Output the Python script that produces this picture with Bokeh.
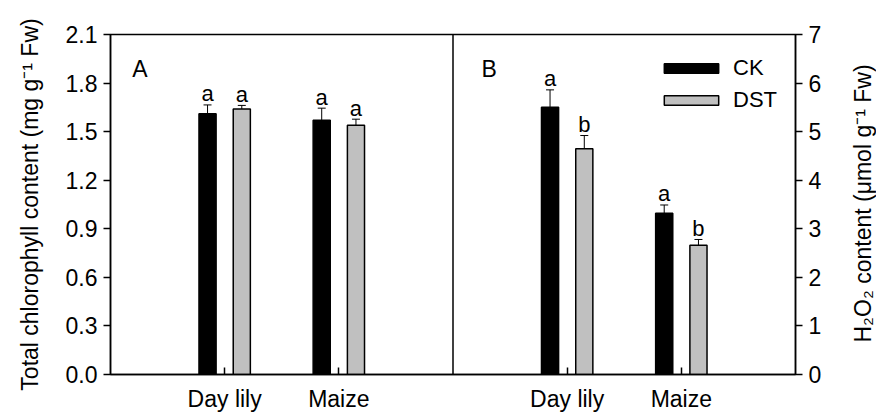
import math
from bokeh.plotting import figure
from bokeh.models import (Range1d, LinearAxis, FixedTicker, Whisker, ColumnDataSource,
                          Span, Legend, LegendItem, Label, TeeHead, PrintfTickFormatter)
from bokeh.core.properties import value
from bokeh.embed import file_html
from bokeh.resources import INLINE

# ---------------- data ----------------
categories = ["Day lily", "Maize"]
series = ["CK", "DST"]

chl_ck = [1.61, 1.57]
chl_ck_err = [0.055, 0.075]
chl_dst = [1.64, 1.54]
chl_dst_err = [0.022, 0.037]
chl_ck_letters = ["a", "a"]
chl_dst_letters = ["a", "a"]

h2o2_ck = [5.50, 3.32]
h2o2_ck_err = [0.36, 0.17]
h2o2_dst = [4.65, 2.66]
h2o2_dst_err = [0.27, 0.12]
h2o2_ck_letters = ["a", "a"]
h2o2_dst_letters = ["b", "b"]

chl_ticks = [0.0, 0.3, 0.6, 0.9, 1.2, 1.5, 1.8, 2.1]
h2o2_ticks = [0, 1, 2, 3, 4, 5, 6, 7]
panel_labels = ["A", "B"]

left_label = "Total chlorophyll content (mg g\u207b\u00b9 Fw)"
right_label = "H\u2082O\u2082 content (\u03bcmol g\u207b\u00b9 Fw)"

# ---------------- layout helpers ----------------
FONT = "Liberation Sans"
n = len(categories)
xa = [i + 1 for i in range(n)]            # panel A category positions
xb = [i + n + 2 for i in range(n)]        # panel B category positions
x_max = xb[-1] + 1
OFF = 0.15
BW = 0.15

p = figure(width=876, height=414, output_backend="svg", toolbar_location=None,
           x_range=Range1d(0, x_max), y_range=Range1d(0, chl_ticks[-1]),
           min_border_left=110, min_border_right=81, min_border_top=34, min_border_bottom=38)
p.extra_y_ranges = {"h2o2": Range1d(0, h2o2_ticks[-1])}

p.xgrid.visible = False
p.ygrid.visible = False
p.outline_line_color = "black"
p.outline_line_width = 1.5
p.background_fill_color = "white"
p.border_fill_color = "white"


def add_series(xs, vals, errs, letters, color, off, rng):
    src = ColumnDataSource(dict(
        x=[x + off for x in xs],
        top=vals,
        upper=[v + e for v, e in zip(vals, errs)],
        letter=letters,
    ))
    kw = {} if rng is None else {"y_range_name": rng}
    r = p.vbar(x="x", top="top", width=BW, source=src, fill_color=color,
               line_color="black", line_width=1.5, **kw)
    w = Whisker(base="x", lower="top", upper="upper", source=src, dimension="height",
                line_color="black", line_width=1,
                upper_head=TeeHead(size=8, line_width=1, line_color="black"),
                lower_head=None, **kw)
    p.add_layout(w)
    p.text(x="x", y="upper", text="letter", source=src, text_align="center",
           text_baseline="alphabetic", y_offset=-11, text_color="black",
           text_font=value(FONT), text_font_size="22px", **kw)
    return r


add_series(xa, chl_ck, chl_ck_err, chl_ck_letters, "black", -OFF, None)
add_series(xa, chl_dst, chl_dst_err, chl_dst_letters, "#c0c0c0", OFF, None)
rb_ck = add_series(xb, h2o2_ck, h2o2_ck_err, h2o2_ck_letters, "black", -OFF, "h2o2")
rb_dst = add_series(xb, h2o2_dst, h2o2_dst_err, h2o2_dst_letters, "#c0c0c0", OFF, "h2o2")

# divider between the panels
p.add_layout(Span(location=(xa[-1] + xb[0]) / 2, dimension="height",
                  line_color="black", line_width=1.5))

# panel letters
for txt, x0 in zip(panel_labels, [0.19, xa[-1] + 1.25]):
    p.add_layout(Label(x=x0, y=1.887, text=txt, text_font=FONT, text_font_size="23px",
                       text_baseline="alphabetic", text_color="black"))

# ---------------- axes ----------------
def style_axis(ax):
    ax.axis_line_color = "black"
    ax.axis_line_width = 1.5
    ax.major_tick_line_color = "black"
    ax.major_tick_line_width = 1.5
    ax.minor_tick_line_color = None
    ax.major_label_text_font = FONT
    ax.major_label_text_font_size = "23px"
    ax.major_label_text_color = "black"
    ax.axis_label_text_font = FONT
    ax.axis_label_text_font_size = "23px"
    ax.axis_label_text_font_style = "normal"
    ax.axis_label_text_color = "black"


xax = p.xaxis[0]
style_axis(xax)
xax.ticker = FixedTicker(ticks=xa + xb)
xax.major_label_overrides = {x: c for x, c in zip(xa + xb, categories + categories)}
xax.major_tick_in = 7
xax.major_tick_out = 0
xax.major_label_standoff = 11

yax = p.yaxis[0]
style_axis(yax)
yax.ticker = FixedTicker(ticks=chl_ticks)
yax.formatter = PrintfTickFormatter(format="%.1f")
yax.major_tick_in = 0
yax.major_tick_out = 7
yax.major_label_standoff = 6
yax.axis_label = left_label
yax.axis_label_standoff = 20

rax = LinearAxis(y_range_name="h2o2", ticker=FixedTicker(ticks=h2o2_ticks))
style_axis(rax)
rax.major_tick_in = 0
rax.major_tick_out = 7
rax.major_label_standoff = 6
p.add_layout(rax, "right")

# right axis title (bottom-to-top), placed in its own right-side panel
p.add_layout(Label(x=38, y=171, x_units="screen", y_units="screen", text=right_label,
                   angle=math.pi / 2, text_align="center", text_baseline="middle",
                   text_font=FONT, text_font_size="23px", text_color="black"), "right")

# ---------------- legend ----------------
legend = Legend(items=[LegendItem(label=series[0], renderers=[rb_ck]),
                       LegendItem(label=series[1], renderers=[rb_dst])],
                location=(547, 261), orientation="vertical",
                glyph_width=68, glyph_height=12, label_height=24, spacing=6,
                label_standoff=8, padding=0, margin=0,
                border_line_alpha=0, background_fill_alpha=0,
                label_text_font=FONT, label_text_font_size="22px",
                label_text_color="black")
p.add_layout(legend)

open("out.html", "w").write(file_html(p, INLINE))
